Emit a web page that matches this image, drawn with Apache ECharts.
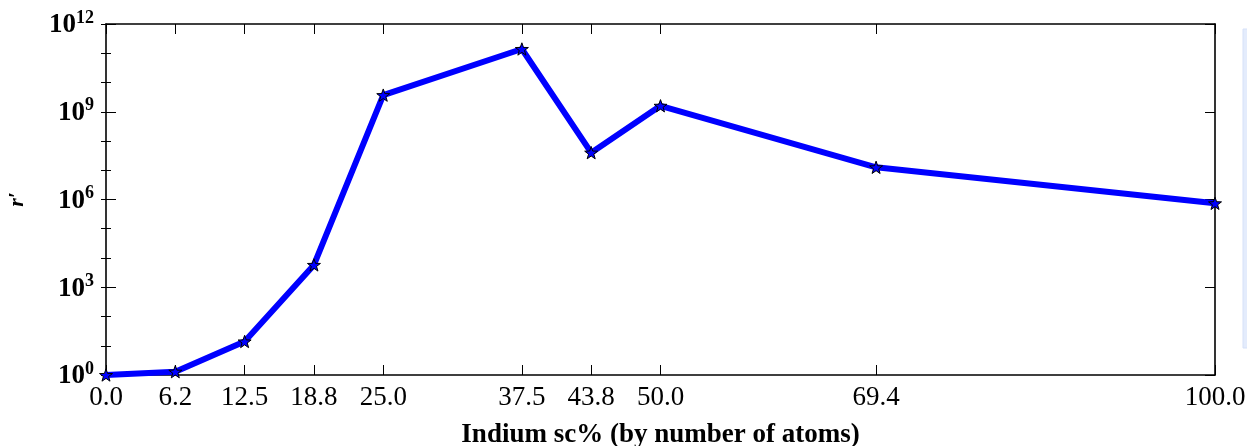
<!DOCTYPE html>
<html>
<head>
<meta charset="utf-8">
<script src="https://cdn.jsdelivr.net/npm/echarts@6/dist/echarts.min.js"></script>
<style>
  html, body { margin: 0; padding: 0; background: #ffffff; }
  #chart { width: 1247px; height: 446px; }
</style>
</head>
<body>
<div id="chart"></div>
<script>
// Indium fraction (sc%, by number of atoms) at each sampled composition
const indiumPct = [0, 6.25, 12.5, 18.75, 25, 37.5, 43.75, 50, 69.44, 100];
const indiumTickLabels = ['0.0', '6.2', '12.5', '18.8', '25.0', '37.5', '43.8', '50.0', '69.4', '100.0'];
// r' values (log scale)
const rPrime = [1, 1.3, 14, 5.8e3, 3.7e9, 1.4e11, 4.0e7, 1.6e9, 1.26e7, 7.4e5];
// Decade exponents: labelled ones and every decade for short ticks
const yLabelExps = [0, 3, 6, 9, 12];
const yDecadeExps = [0, 1, 2, 3, 4, 5, 6, 7, 8, 9, 10, 11, 12];

const SERIF = '"Liberation Serif", "DejaVu Serif", serif';
const yMajor = yLabelExps.map(e => Math.pow(10, e));
const yMinor = yDecadeExps.map(e => Math.pow(10, e));

const STAR = 'path://M0,-10L2.35,-3.24L9.51,-3.09L3.8,1.24L5.88,8.09L0,4L-5.88,8.09L-3.8,1.24L-9.51,-3.09L-2.35,-3.24Z';

const frameLine = { show: true, onZero: false, lineStyle: { color: '#000', width: 1.6 } };

function yAxisDef(position, ticks, len, withLabels, withLine) {
  return {
    type: 'log',
    logBase: 10,
    min: 1,
    max: 1e12,
    position: position,
    axisLine: withLine ? frameLine : { show: false },
    axisTick: { show: true, inside: true, length: len, customValues: ticks,
                lineStyle: { color: '#000', width: 1 } },
    axisLabel: withLabels ? {
      show: true,
      customValues: yMajor,
      margin: 12,
      formatter: v => '{b|10}{s|' + Math.round(Math.log10(v)) + '}',
      rich: {
        b: { fontFamily: SERIF, fontSize: 27, fontWeight: 'bold', color: '#000', lineHeight: 30, verticalAlign: 'bottom' },
        s: { fontFamily: SERIF, fontSize: 18, fontWeight: 'bold', color: '#000', lineHeight: 30, verticalAlign: 'top', padding: [0, 0, 8, 0] }
      }
    } : { show: false },
    splitLine: { show: false },
    name: withLabels ? 'r\u2032' : '',
    nameLocation: 'middle',
    nameRotate: 90,
    nameGap: 78,
    nameTextStyle: { fontFamily: SERIF, fontSize: 22, fontStyle: 'italic', fontWeight: 'bold', color: '#000' }
  };
}

function xAxisDef(position, withLabels) {
  return {
    type: 'value',
    min: 0,
    max: 100,
    position: position,
    axisLine: frameLine,
    axisTick: { show: true, inside: true, length: 10, customValues: indiumPct,
                lineStyle: { color: '#000', width: 1 } },
    axisLabel: withLabels ? {
      show: true,
      customValues: indiumPct,
      margin: 9,
      formatter: v => indiumTickLabels[indiumPct.indexOf(v)],
      fontFamily: SERIF,
      fontSize: 27,
      color: '#000'
    } : { show: false },
    splitLine: { show: false },
    name: withLabels ? 'Indium sc% (by number of atoms)' : '',
    nameLocation: 'middle',
    nameGap: 47,
    nameTextStyle: { fontFamily: SERIF, fontSize: 27, fontWeight: 'bold', color: '#000' }
  };
}

const chart = echarts.init(document.getElementById('chart'), null, { renderer: 'canvas' });
chart.setOption({
  backgroundColor: '#ffffff',
  animation: false,
  grid: { left: 106, right: 32, top: 24, bottom: 71, containLabel: false, outerBoundsMode: 'none' },
  xAxis: [xAxisDef('bottom', true), xAxisDef('top', false)],
  yAxis: [
    yAxisDef('left', yMajor, 10, true, true),
    yAxisDef('left', yMinor, 5, false, false),
    yAxisDef('right', yMajor, 10, false, true),
    yAxisDef('right', yMinor, 5, false, false)
  ],
  series: [{
    type: 'line',
    xAxisIndex: 0,
    yAxisIndex: 0,
    data: indiumPct.map((x, i) => [x, rPrime[i]]),
    lineStyle: { color: '#0000ff', width: 6 },
    symbol: STAR,
    symbolSize: 13,
    symbolKeepAspect: true,
    showSymbol: true,
    itemStyle: { color: '#0000ff', borderColor: '#000', borderWidth: 1 },
    clip: true
  }],
  graphic: [{
    type: 'rect',
    shape: { x: 1243, y: 29, width: 10, height: 319 },
    style: { fill: '#e4ecfc', stroke: '#d6e1f8', lineWidth: 1 },
    silent: true
  }]
});
</script>
</body>
</html>
